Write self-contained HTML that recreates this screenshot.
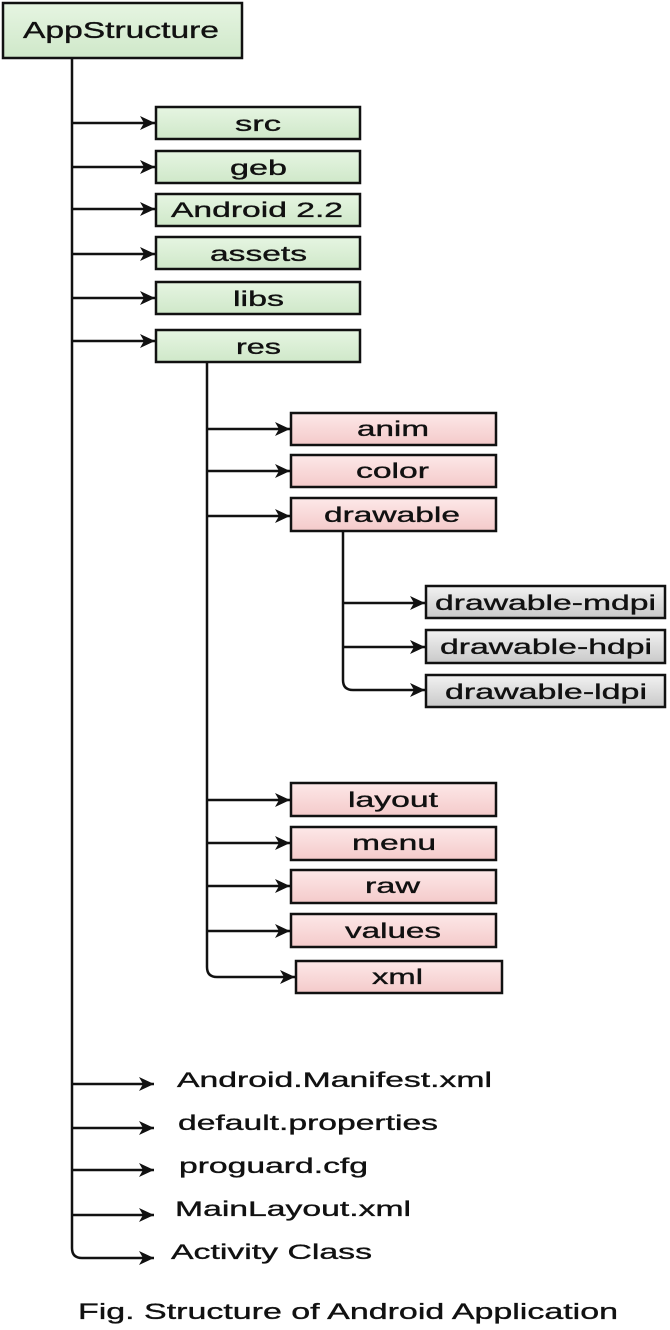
<!DOCTYPE html>
<html><head><meta charset="utf-8"><style>
html,body{margin:0;padding:0;background:#fff;width:670px;height:1330px;overflow:hidden}
svg text{font-family:"Liberation Sans",Arial,sans-serif;fill:#111;stroke:#111;stroke-width:0.35}
</style></head><body>
<svg width="670" height="1330" viewBox="0 0 670 1330" xmlns="http://www.w3.org/2000/svg">
<defs>
<linearGradient id="g" x1="0" y1="0" x2="0" y2="1"><stop offset="0" stop-color="#e6f5e2"/><stop offset="1" stop-color="#cfe8c9"/></linearGradient>
<linearGradient id="p" x1="0" y1="0" x2="0" y2="1"><stop offset="0" stop-color="#fde8e8"/><stop offset="1" stop-color="#f4caca"/></linearGradient>
<linearGradient id="q" x1="0" y1="0" x2="0" y2="1"><stop offset="0" stop-color="#f2f2f2"/><stop offset="1" stop-color="#c9c9c9"/></linearGradient>
<marker id="a" markerWidth="16" markerHeight="14" refX="15" refY="7" orient="auto" markerUnits="userSpaceOnUse"><path d="M0,0 L15,7 L0,14 L4,7 Z" fill="#111"/></marker>
</defs>
<g stroke="#111" stroke-width="2.5" fill="none">
<rect x="3" y="3" width="239" height="55" fill="url(#g)"/>
<path d="M72,58 V1248 Q72,1258 82,1258 H154" marker-end="url(#a)"/>
<path d="M72,123 H155" marker-end="url(#a)"/>
<path d="M72,167 H155" marker-end="url(#a)"/>
<path d="M72,209 H155" marker-end="url(#a)"/>
<path d="M72,254 H155" marker-end="url(#a)"/>
<path d="M72,298 H155" marker-end="url(#a)"/>
<path d="M72,341 H155" marker-end="url(#a)"/>
<path d="M72,1084 H154" marker-end="url(#a)"/>
<path d="M72,1128 H154" marker-end="url(#a)"/>
<path d="M72,1170 H154" marker-end="url(#a)"/>
<path d="M72,1215 H154" marker-end="url(#a)"/>
<rect x="156" y="107" width="204" height="32" fill="url(#g)"/>
<rect x="156" y="151" width="204" height="32" fill="url(#g)"/>
<rect x="156" y="194" width="204" height="32" fill="url(#g)"/>
<rect x="156" y="237" width="204" height="32" fill="url(#g)"/>
<rect x="156" y="282" width="204" height="32" fill="url(#g)"/>
<rect x="156" y="330" width="204" height="32" fill="url(#g)"/>
<path d="M207,362 V967 Q207,977 217,977 H295" marker-end="url(#a)"/>
<path d="M207,429 H290" marker-end="url(#a)"/>
<path d="M207,471 H290" marker-end="url(#a)"/>
<path d="M207,516 H290" marker-end="url(#a)"/>
<path d="M207,800 H290" marker-end="url(#a)"/>
<path d="M207,843 H290" marker-end="url(#a)"/>
<path d="M207,886 H290" marker-end="url(#a)"/>
<path d="M207,931 H290" marker-end="url(#a)"/>
<rect x="291" y="413" width="205" height="32" fill="url(#p)"/>
<rect x="291" y="455" width="205" height="32" fill="url(#p)"/>
<rect x="291" y="498" width="205" height="33" fill="url(#p)"/>
<rect x="291" y="783" width="205" height="33" fill="url(#p)"/>
<rect x="291" y="827" width="205" height="33" fill="url(#p)"/>
<rect x="291" y="870" width="205" height="33" fill="url(#p)"/>
<rect x="291" y="914" width="205" height="33" fill="url(#p)"/>
<rect x="296" y="961" width="206" height="32" fill="url(#p)"/>
<path d="M343,531 V680 Q343,690 353,690 H425" marker-end="url(#a)"/>
<path d="M343,603 H425" marker-end="url(#a)"/>
<path d="M343,647 H425" marker-end="url(#a)"/>
<rect x="426" y="586" width="239" height="32" fill="url(#q)"/>
<rect x="426" y="630" width="239" height="33" fill="url(#q)"/>
<rect x="426" y="675" width="239" height="32" fill="url(#q)"/>
</g>
<g font-size="21" lengthAdjust="spacingAndGlyphs">
<text x="23" y="38" font-size="23" textLength="196" lengthAdjust="spacingAndGlyphs">AppStructure</text>
<text x="235" y="131" textLength="46" lengthAdjust="spacingAndGlyphs">src</text>
<text x="230" y="175" textLength="57" lengthAdjust="spacingAndGlyphs">geb</text>
<text x="171" y="217" textLength="172" lengthAdjust="spacingAndGlyphs">Android 2.2</text>
<text x="210" y="261" textLength="97" lengthAdjust="spacingAndGlyphs">assets</text>
<text x="233" y="306" textLength="51" lengthAdjust="spacingAndGlyphs">libs</text>
<text x="236" y="354" textLength="45" lengthAdjust="spacingAndGlyphs">res</text>
<text x="357" y="436" textLength="72" lengthAdjust="spacingAndGlyphs">anim</text>
<text x="356" y="478" textLength="73" lengthAdjust="spacingAndGlyphs">color</text>
<text x="324" y="522" textLength="136" lengthAdjust="spacingAndGlyphs">drawable</text>
<text x="435" y="610" textLength="221" lengthAdjust="spacingAndGlyphs">drawable-mdpi</text>
<text x="440" y="654" textLength="212" lengthAdjust="spacingAndGlyphs">drawable-hdpi</text>
<text x="445" y="699" textLength="202" lengthAdjust="spacingAndGlyphs">drawable-ldpi</text>
<text x="348" y="807" textLength="90" lengthAdjust="spacingAndGlyphs">layout</text>
<text x="352" y="850" textLength="84" lengthAdjust="spacingAndGlyphs">menu</text>
<text x="365" y="893" textLength="55" lengthAdjust="spacingAndGlyphs">raw</text>
<text x="345" y="938" textLength="96" lengthAdjust="spacingAndGlyphs">values</text>
<text x="372" y="984" textLength="51" lengthAdjust="spacingAndGlyphs">xml</text>
<text x="177" y="1087" textLength="315" lengthAdjust="spacingAndGlyphs">Android.Manifest.xml</text>
<text x="178" y="1130" textLength="260" lengthAdjust="spacingAndGlyphs">default.properties</text>
<text x="179" y="1173" textLength="189" lengthAdjust="spacingAndGlyphs">proguard.cfg</text>
<text x="175" y="1216" textLength="236" lengthAdjust="spacingAndGlyphs">MainLayout.xml</text>
<text x="171" y="1259" textLength="201" lengthAdjust="spacingAndGlyphs">Activity Class</text>
<text x="78" y="1319" font-size="22.5" textLength="540" lengthAdjust="spacingAndGlyphs">Fig. Structure of Android Application</text>
</g>
</svg>
</body></html>
